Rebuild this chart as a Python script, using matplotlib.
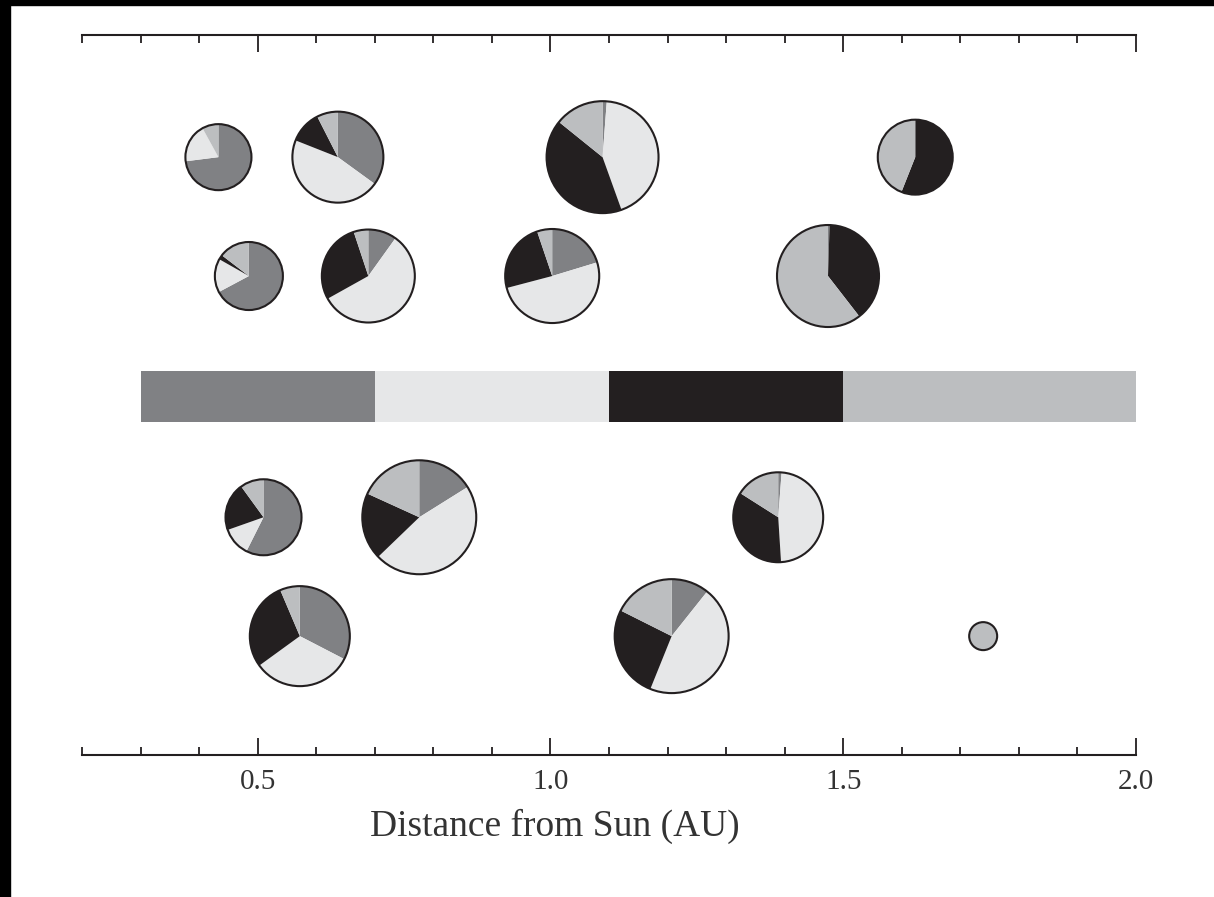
import matplotlib.pyplot as plt
from matplotlib.patches import Circle, Rectangle
from matplotlib.ticker import MultipleLocator

plt.rcParams['font.family'] = ['Liberation Serif', 'DejaVu Serif']

# zone strip along the distance axis
zone_edges = [0.3, 0.7, 1.1, 1.5, 2.0]
zone_colors = ['#808184', '#e6e7e8', '#231f20', '#bcbec0']

# pies: distance from sun (AU), row height, radius (AU units)
pie_dist = [0.433, 0.637, 1.089, 1.623,
            0.485, 0.689, 1.003, 1.474,
            0.510, 0.776, 1.389,
            0.572, 1.207, 1.739]
pie_row = [1.021, 1.021, 1.021, 1.021,
           0.818, 0.818, 0.818, 0.818,
           0.406, 0.406, 0.406,
           0.203, 0.203, 0.203]
pie_radius = [0.0564, 0.0777, 0.0956, 0.0640,
              0.0581, 0.0794, 0.0803, 0.0871,
              0.0649, 0.0973, 0.0768,
              0.0854, 0.0973, 0.0239]

# share of each zone type in every pie (clockwise from 12 o'clock)
share_dark = [0.73, 0.35, 0.012, 0.0, 0.672, 0.099, 0.203, 0.005, 0.574, 0.161, 0.012, 0.326, 0.107, 0.0]
share_light = [0.19, 0.46, 0.433, 0.0, 0.16, 0.57, 0.506, 0.0, 0.122, 0.467, 0.478, 0.324, 0.454, 0.0]
share_black = [0.0, 0.115, 0.413, 0.56, 0.022, 0.28, 0.239, 0.39, 0.204, 0.19, 0.35, 0.286, 0.263, 0.0]
share_mid = [0.08, 0.075, 0.142, 0.44, 0.146, 0.051, 0.052, 0.605, 0.10, 0.182, 0.16, 0.064, 0.176, 1.0]

bar_y = 0.612
bar_h = 0.087
ink = '#231f20'

fig = plt.figure(figsize=(12.14, 8.97), dpi=100)
ax = fig.add_axes([82 / 1214, 142 / 897, 1054 / 1214, 720 / 897])

# black edge strips of the scan
fig.patches.append(Rectangle((0, 0), 10 / 1214, 1, transform=fig.transFigure, color='black', zorder=10))
fig.patches.append(Rectangle((0, 1 - 5 / 897), 1, 5 / 897, transform=fig.transFigure, color='black', zorder=10))

for i in range(len(zone_colors)):
    ax.barh(bar_y, zone_edges[i + 1] - zone_edges[i], left=zone_edges[i], height=bar_h,
            color=zone_colors[i], linewidth=0)

for i in range(len(pie_dist)):
    vals = [share_dark[i], share_light[i], share_black[i], share_mid[i]]
    ax.pie(vals, colors=zone_colors, center=(pie_dist[i], pie_row[i]), radius=pie_radius[i],
           startangle=90, counterclock=False, frame=True,
           wedgeprops=dict(linewidth=0))
    ax.add_patch(Circle((pie_dist[i], pie_row[i]), pie_radius[i], fill=False,
                        edgecolor=ink, linewidth=1.5, zorder=5))

ax.set_xlim(0.2, 2.0)
ax.set_ylim(0, 1.8 * 720 / 1054)
ax.set_aspect('equal')

for s in ['left', 'right']:
    ax.spines[s].set_visible(False)
for s in ['top', 'bottom']:
    ax.spines[s].set_linewidth(1.5)
    ax.spines[s].set_color(ink)

ax.xaxis.set_major_locator(MultipleLocator(0.5))
ax.xaxis.set_minor_locator(MultipleLocator(0.1))
ax.tick_params(axis='x', which='both', direction='in', top=True, bottom=True,
               labeltop=False, color=ink, width=1.3)
ax.tick_params(axis='x', which='major', length=12, pad=10, labelsize=21, labelcolor='#333333')
ax.tick_params(axis='x', which='minor', length=5.5)
ax.set_yticks([])

ax.set_xlabel('Distance from Sun (AU)', fontsize=27, color='#333333')
ax.xaxis.set_label_coords((555 - 82) / 1054, -71 / 720)
ax.xaxis.label.set_va('center')

fig.savefig('out.png', dpi=100, facecolor='white')
